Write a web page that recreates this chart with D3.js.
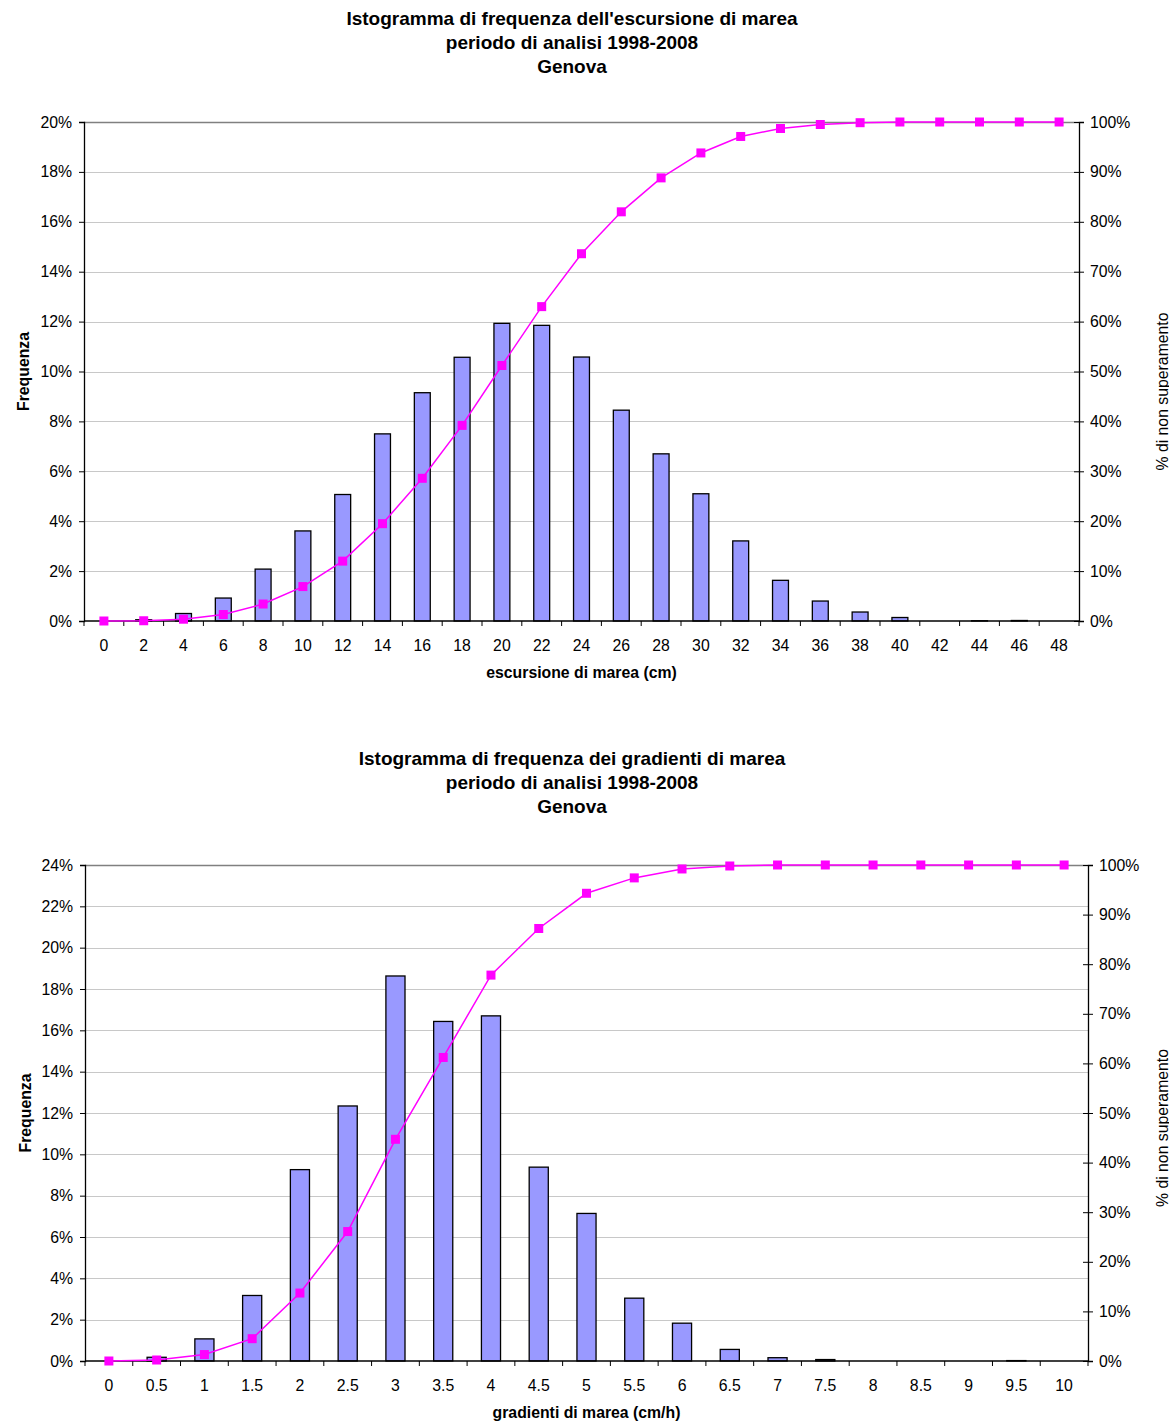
<!DOCTYPE html>
<html>
<head>
<meta charset="utf-8">
<script src="https://cdn.jsdelivr.net/npm/d3@7"></script>
<style>
  html, body { margin: 0; padding: 0; background: #fff; }
  svg { display: block; font-family: "Liberation Sans", Arial, sans-serif; }
</style>
</head>
<body>
<svg id="chart" width="1169" height="1422"></svg>
<script>
// ---- Escursione di marea (cm) ----
const escursioneCategories = ["0","2","4","6","8","10","12","14","16","18","20","22","24",
  "26","28","30","32","34","36","38","40","42","44","46","48"];
const escursioneFrequenza = [0, 0.05, 0.30, 0.92, 2.08, 3.61, 5.07, 7.50, 9.15, 10.57, 11.93, 11.85,
  10.58, 8.45, 6.70, 5.10, 3.21, 1.63, 0.80, 0.36, 0.14, 0, 0.01, 0.02, 0];
const escursioneCumulata = [0, 0.05, 0.36, 1.3, 3.4, 6.9, 12.0, 19.5, 28.6, 39.2, 51.2, 63.0,
  73.6, 82.0, 88.8, 93.8, 97.1, 98.7, 99.5, 99.86, 100, 100, 100, 100, 100];
const escursioneLeftTicks = [0, 2, 4, 6, 8, 10, 12, 14, 16, 18, 20];
const escursioneTitle = ["Istogramma di frequenza dell'escursione di marea",
  "periodo di analisi 1998-2008", "Genova"];
const escursioneXLabel = "escursione di marea (cm)";

// ---- Gradienti di marea (cm/h) ----
const gradientiCategories = ["0","0.5","1","1.5","2","2.5","3","3.5","4","4.5","5","5.5",
  "6","6.5","7","7.5","8","8.5","9","9.5","10"];
const gradientiFrequenza = [0, 0.18, 1.07, 3.17, 9.26, 12.34, 18.63, 16.43, 16.70, 9.38, 7.14,
  3.04, 1.83, 0.56, 0.16, 0.07, 0, 0, 0, 0.02, 0];
const gradientiCumulata = [0, 0.2, 1.3, 4.5, 13.7, 26.1, 44.7, 61.2, 77.8, 87.2, 94.3,
  97.4, 99.2, 99.8, 100, 100, 100, 100, 100, 100, 100];
const gradientiLeftTicks = [0, 2, 4, 6, 8, 10, 12, 14, 16, 18, 20, 22, 24];
const gradientiTitle = ["Istogramma di frequenza dei gradienti di marea",
  "periodo di analisi 1998-2008", "Genova"];
const gradientiXLabel = "gradienti di marea (cm/h)";

const rightTicks = [0, 10, 20, 30, 40, 50, 60, 70, 80, 90, 100];
const leftAxisLabel = "Frequenza";
const rightAxisLabel = "% di non superamento";

const svg = d3.select("#chart");
const TICK_FONT = 15.8;
const LABEL_FONT = 15.8;

function drawChart(opts) {
  const g = svg.append("g");
  const { left, right, top, bottom } = opts.box;

  // titles
  opts.title.forEach((t, i) => {
    g.append("text")
      .attr("x", opts.titleX)
      .attr("y", opts.titleY + i * 24)
      .attr("text-anchor", "middle")
      .attr("dominant-baseline", "central")
      .attr("font-size", 19)
      .attr("font-weight", "bold")
      .attr("fill", "#000")
      .text(t);
  });

  const x = d3.scaleBand().domain(opts.categories).range([left, right]).paddingInner(0).paddingOuter(0);
  const yL = d3.scaleLinear().domain([0, opts.leftMax]).range([bottom, top]);
  const yR = d3.scaleLinear().domain([0, 100]).range([bottom, top]);

  // gridlines
  g.append("g").selectAll("line")
    .data(opts.leftTicks.filter(d => d > 0))
    .join("line")
    .attr("x1", left).attr("x2", right)
    .attr("y1", d => Math.round(yL(d)) + 0.5).attr("y2", d => Math.round(yL(d)) + 0.5)
    .attr("stroke", d => d === opts.leftMax ? "#808080" : "#c8c8c8")
    .attr("stroke-width", d => d === opts.leftMax ? 1.3 : 1);

  // bars
  const bw = x.bandwidth() / 2.5;
  g.append("g").selectAll("rect")
    .data(opts.freq.map((v, i) => ({ c: opts.categories[i], v })).filter(d => d.v > 0))
    .join("rect")
    .attr("x", d => x(d.c) + (x.bandwidth() - bw) / 2)
    .attr("y", d => yL(d.v))
    .attr("width", bw)
    .attr("height", d => bottom - yL(d.v))
    .attr("fill", "#9999ff")
    .attr("stroke", "#000")
    .attr("stroke-width", 1.3);

  // left axis
  const axL = d3.axisLeft(yL).tickValues(opts.leftTicks).tickSize(5).tickPadding(7)
    .tickFormat(d => d + "%");
  const gL = g.append("g").attr("transform", `translate(${left},0)`).call(axL);
  gL.select(".domain").attr("stroke", "#000").attr("stroke-width", 1.3);
  gL.selectAll(".tick line").attr("stroke", "#000");
  gL.selectAll("text").attr("font-size", TICK_FONT).attr("fill", "#000")
    .attr("font-family", "'Liberation Sans', Arial, sans-serif");

  // right axis (ticks crossing the axis line)
  const axR = d3.axisRight(yR).tickValues(rightTicks).tickSize(5).tickPadding(6)
    .tickFormat(d => d + "%");
  const gR = g.append("g").attr("transform", `translate(${right},0)`).call(axR);
  gR.select(".domain").attr("stroke", "#000").attr("stroke-width", 1.3);
  gR.selectAll(".tick line").attr("stroke", "#000").attr("x1", -5);
  gR.selectAll("text").attr("font-size", TICK_FONT).attr("fill", "#000")
    .attr("font-family", "'Liberation Sans', Arial, sans-serif");

  // bottom axis: ticks at category boundaries
  g.append("line")
    .attr("x1", left).attr("x2", right).attr("y1", bottom).attr("y2", bottom)
    .attr("stroke", "#000").attr("stroke-width", 1.3);
  const bounds = opts.categories.map(c => x(c)).concat([right]);
  g.append("g").selectAll("line")
    .data(bounds)
    .join("line")
    .attr("x1", d => d).attr("x2", d => d)
    .attr("y1", bottom).attr("y2", bottom + 5)
    .attr("stroke", "#000");
  g.append("g").selectAll("text")
    .data(opts.categories)
    .join("text")
    .attr("x", d => x(d) + x.bandwidth() / 2)
    .attr("y", bottom + 24)
    .attr("text-anchor", "middle")
    .attr("dominant-baseline", "central")
    .attr("font-size", TICK_FONT)
    .text(d => d);

  // cumulative line
  const line = d3.line()
    .x((d, i) => x(opts.categories[i]) + x.bandwidth() / 2)
    .y(d => yR(d));
  g.append("path")
    .datum(opts.cum)
    .attr("d", line)
    .attr("fill", "none")
    .attr("stroke", "#ff00ff")
    .attr("stroke-width", 1.5);
  g.append("g").selectAll("rect")
    .data(opts.cum)
    .join("rect")
    .attr("x", (d, i) => x(opts.categories[i]) + x.bandwidth() / 2 - 4.5)
    .attr("y", d => yR(d) - 4.5)
    .attr("width", 9).attr("height", 9)
    .attr("fill", "#ff00ff");

  // axis titles
  g.append("text")
    .attr("x", (left + right) / 2 + opts.xLabelDx)
    .attr("y", bottom + 51)
    .attr("text-anchor", "middle")
    .attr("dominant-baseline", "central")
    .attr("font-size", LABEL_FONT)
    .attr("font-weight", "bold")
    .text(opts.xLabel);
  g.append("text")
    .attr("transform", `translate(${opts.leftLabelX},${(top + bottom) / 2}) rotate(-90)`)
    .attr("text-anchor", "middle")
    .attr("dominant-baseline", "central")
    .attr("font-size", LABEL_FONT)
    .attr("font-weight", "bold")
    .text(leftAxisLabel);
  g.append("text")
    .attr("transform", `translate(1162,${(top + bottom) / 2 + opts.rightLabelDy}) rotate(-90)`)
    .attr("text-anchor", "middle")
    .attr("dominant-baseline", "central")
    .attr("font-size", LABEL_FONT)
    .text(rightAxisLabel);
}

drawChart({
  categories: escursioneCategories,
  freq: escursioneFrequenza,
  cum: escursioneCumulata,
  leftTicks: escursioneLeftTicks,
  leftMax: 20,
  title: escursioneTitle,
  titleX: 572, titleY: 18,
  xLabel: escursioneXLabel, xLabelDx: 0,
  leftLabelX: 23, rightLabelDy: 20,
  box: { left: 84, right: 1079, top: 122, bottom: 621 }
});

drawChart({
  categories: gradientiCategories,
  freq: gradientiFrequenza,
  cum: gradientiCumulata,
  leftTicks: gradientiLeftTicks,
  leftMax: 24,
  title: gradientiTitle,
  titleX: 572, titleY: 758,
  xLabel: gradientiXLabel, xLabelDx: 0,
  leftLabelX: 25, rightLabelDy: 15,
  box: { left: 85, right: 1088, top: 865, bottom: 1361 }
});
</script>
</body>
</html>
